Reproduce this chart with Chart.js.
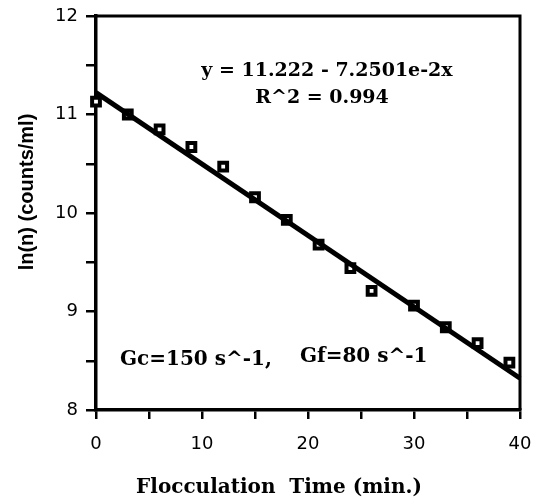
<!DOCTYPE html>
<html>
<head>
<meta charset="utf-8">
<script src="https://cdn.jsdelivr.net/npm/chart.js@4/dist/chart.umd.min.js"></script>
<style>
  html, body { margin: 0; padding: 0; background: #fff; }
  #wrap { width: 535px; height: 500px; position: relative; }
</style>
</head>
<body>
<div id="wrap"><canvas id="flocChart"></canvas></div>
<script>
const timeMin = [0, 3, 6, 9, 12, 15, 18, 21, 24, 26, 30, 33, 36, 39];
const lnCounts = [11.13, 11.0, 10.85, 10.67, 10.47, 10.16, 9.93, 9.68, 9.44, 9.21, 9.06, 8.84, 8.68, 8.48];
// ends of the fitted line y = 11.222 - 7.2501e-2 x
const fitX = [0, 40];
const fitY = [11.222, 8.322];
const xTicks = [0, 10, 20, 30, 40];
const yTicks = [8, 9, 10, 11, 12];

const serifBold = 'bold 20px "DejaVu Serif"';

const frameAndText = {
  id: 'frameAndText',
  afterDraw(chart) {
    const { ctx, chartArea: a } = chart;
    ctx.save();
    // top and right border
    ctx.strokeStyle = '#000';
    ctx.lineWidth = 3;
    ctx.beginPath();
    ctx.moveTo(a.left, a.top);
    ctx.lineTo(a.right, a.top);
    ctx.lineTo(a.right, a.bottom);
    ctx.stroke();

    ctx.fillStyle = '#000';
    ctx.textBaseline = 'alphabetic';
    ctx.textAlign = 'center';
    ctx.font = 'bold 19px "DejaVu Serif"';
    ctx.fillText('y = 11.222 - 7.2501e-2x', 327, 76);
    ctx.fillText('R^2 = 0.994', 322, 103);
    ctx.font = serifBold;
    ctx.fillText('Flocculation  Time (min.)', 279, 493);

    ctx.textAlign = 'left';
    ctx.fillText('Gc=150 s^-1,', 120, 365);
    ctx.fillText('Gf=80 s^-1', 300, 362);

    // y title
    ctx.translate(33, 192);
    ctx.rotate(-Math.PI / 2);
    ctx.textAlign = 'center';
    ctx.font = 'bold 20px "Liberation Sans"';
    ctx.fillText('ln(n) (counts/ml)', 0, 0);
    ctx.restore();
  }
};

new Chart(document.getElementById('flocChart'), {
  type: 'scatter',
  data: {
    datasets: [
      {
        type: 'line',
        data: fitX.map((x, i) => ({ x, y: fitY[i] })),
        borderColor: '#000',
        borderWidth: 5,
        pointRadius: 0,
        clip: false,
      },
      {
        data: timeMin.map((x, i) => ({ x, y: lnCounts[i] })),
        pointStyle: 'rect',
        pointRadius: 5.5,
        borderColor: '#000',
        borderWidth: 4,
        backgroundColor: '#fff',
        clip: false,
      },
    ],
  },
  options: {
    responsive: true,
    maintainAspectRatio: false,
    animation: false,
    layout: { padding: { top: 16, right: 15, left: 0, bottom: 0 } },
    plugins: {
      legend: { display: false },
      tooltip: { enabled: false },
    },
    scales: {
      x: {
        type: 'linear',
        min: 0,
        max: 40,
        afterFit(s) {
          s.height = 90;
          s.paddingLeft = 0;
          s.paddingRight = 0;
        },
        border: { display: true, color: '#000', width: 3.5 },
        grid: { drawOnChartArea: false, color: '#000', lineWidth: 2.5, tickLength: 9 },
        ticks: {
          stepSize: 5,
          color: '#000',
          padding: 15,
          maxRotation: 0,
          font: { family: '"DejaVu Sans"', size: 18 },
          callback: v => (xTicks.includes(v) ? v : ''),
        },
      },
      y: {
        min: 8,
        max: 12,
        afterFit(s) {
          s.width = 96;
          s.paddingTop = 0;
          s.paddingBottom = 0;
        },
        border: { display: true, color: '#000', width: 3.5 },
        grid: { drawOnChartArea: false, color: '#000', lineWidth: 2.5, tickLength: 10 },
        ticks: {
          stepSize: 0.5,
          color: '#000',
          padding: 8,
          font: { family: '"DejaVu Sans"', size: 18 },
          callback: v => (yTicks.includes(v) ? v : ''),
        },
      },
    },
  },
  plugins: [frameAndText],
});
</script>
</body>
</html>
